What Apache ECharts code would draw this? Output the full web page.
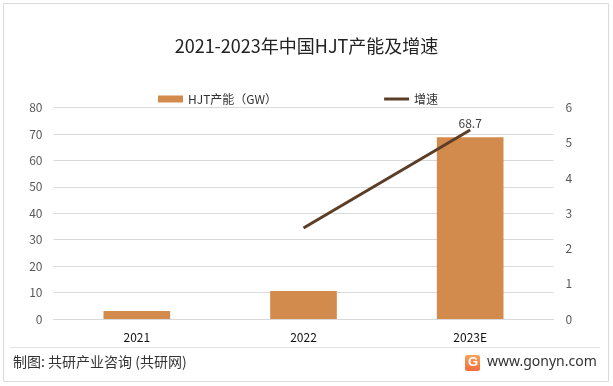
<!DOCTYPE html>
<html>
<head>
<meta charset="utf-8">
<script src="https://cdn.jsdelivr.net/npm/echarts@6/dist/echarts.min.js"></script>
<style>
html,body{margin:0;padding:0;background:#fff;}
#c{width:613px;height:386px;}
</style>
</head>
<body>
<div id="c"></div>
<script>
const categories = ['2021', '2022', '2023E'];
const capacity = [3.0, 10.6, 68.7];
const growth = [null, 2.58, 5.36];
const leftTicks = {min: 0, max: 80, interval: 10};
const rightTicks = {min: 0, max: 6, interval: 1};

const chart = echarts.init(document.getElementById('c'));
const FONT = '"Noto Sans CJK SC", "Microsoft YaHei", sans-serif';
chart.setOption({
  backgroundColor: '#fff',
  animation: false,
  textStyle: {fontFamily: FONT},
  title: {
    text: '2021-2023年中国HJT产能及增速',
    left: 'center',
    top: 32,
    textStyle: {fontSize: 18, fontWeight: 'normal', color: '#222', fontFamily: FONT}
  },
  legend: {
    top: 88,
    left: 153,
    itemGap: 107,
    itemWidth: 25,
    itemHeight: 7,
    textStyle: {fontSize: 12, color: '#333', fontFamily: FONT},
    data: [
      {name: 'HJT产能（GW）', icon: 'rect'},
      {name: '增速', icon: 'path://M0,0 L25,0 L25,3 L0,3 Z', itemStyle: {color: '#5c3d26'}}
    ]
  },
  grid: {left: 53.5, right: 59.5, top: 107.5, bottom: 67, containLabel: false},
  xAxis: {
    type: 'category',
    data: categories,
    axisLine: {lineStyle: {color: '#d9d9d9'}},
    axisTick: {show: false},
    axisLabel: {color: '#111', fontSize: 12, margin: 12, fontFamily: FONT}
  },
  yAxis: [
    {
      type: 'value', min: leftTicks.min, max: leftTicks.max, interval: leftTicks.interval,
      axisLine: {show: false}, axisTick: {show: false},
      axisLabel: {color: '#595959', fontSize: 12, margin: 11},
      splitLine: {lineStyle: {color: '#d9d9d9'}}
    },
    {
      type: 'value', min: rightTicks.min, max: rightTicks.max, interval: rightTicks.interval,
      axisLine: {show: false}, axisTick: {show: false},
      axisLabel: {color: '#595959', fontSize: 12, margin: 12},
      splitLine: {show: false}
    }
  ],
  series: [
    {
      name: 'HJT产能（GW）',
      type: 'bar',
      data: capacity.map((v, i) => i === capacity.length - 1
        ? {value: v, label: {show: true, position: 'top', distance: 8, color: '#404040', fontSize: 12}}
        : v),
      barWidth: '40%',
      itemStyle: {color: '#d38b4d'}
    },
    {
      name: '增速',
      type: 'line',
      yAxisIndex: 1,
      data: growth,
      symbol: 'none',
      lineStyle: {color: '#5c3d26', width: 3},
      itemStyle: {color: '#5c3d26'}
    }
  ],
  graphic: [
    {type: 'rect', shape: {x: 3.5, y: 3.5, width: 605, height: 378}, style: {fill: 'none', stroke: '#d9d9d9', lineWidth: 1}, silent: true},
    {type: 'line', shape: {x1: 10, y1: 347.5, x2: 600, y2: 347.5}, style: {stroke: '#e3e3e3', lineWidth: 1}},
    {type: 'text', left: 13, top: 355, style: {text: '制图: 共研产业咨询 (共研网)', fill: '#333', font: '14px ' + FONT}},
    {type: 'group', left: 465, top: 355, children: [
      {type: 'rect', shape: {x: 0, y: 0, width: 15, height: 16, r: 2}, style: {fill: new echarts.graphic.LinearGradient(0, 0, 0, 1, [{offset: 0, color: '#f7a25a'}, {offset: 1, color: '#f36b3d'}])}},
      {type: 'text', style: {text: 'G', x: 3, y: 1, fill: '#fff', font: 'bold 13px sans-serif'}}
    ]},
    {type: 'text', left: 487, top: 355, style: {text: 'www.gonyn.com', fill: '#333', font: '14px "Noto Sans", sans-serif'}}
  ]
});
</script>
</body>
</html>
